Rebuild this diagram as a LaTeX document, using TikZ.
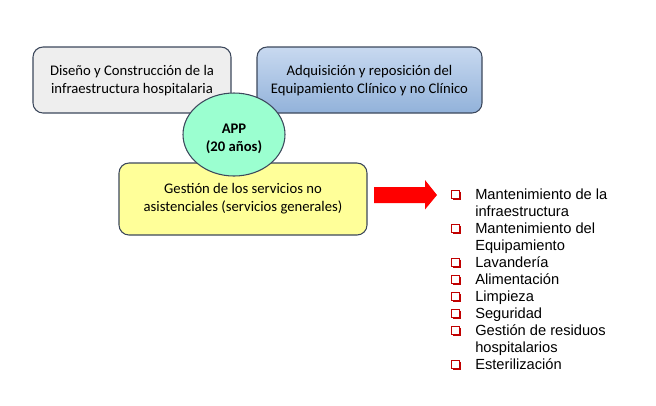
\documentclass[tikz,border=0pt]{standalone}
\usepackage{fontspec}
\setmainfont{Carlito}
\newfontfamily\arialfont{Liberation Sans}
\usetikzlibrary{positioning,calc,shapes.geometric}
\definecolor{rand}{RGB}{60,72,92}
\definecolor{grauF}{RGB}{238,238,238}
\definecolor{blauO}{RGB}{200,217,240}
\definecolor{blauU}{RGB}{146,178,218}
\definecolor{mint}{RGB}{155,255,208}
\definecolor{gelb}{RGB}{255,255,153}
\definecolor{dunkelrot}{RGB}{192,0,0}
\tikzset{
  kasten/.style={draw=rand,line width=0.8pt,rounded corners=7.5pt},
  kastentext/.style={font=\fontsize{11}{13.4}\selectfont,align=center,inner sep=0pt},
  listtext/.style={font=\arialfont\fontsize{11}{12.75}\selectfont,inner sep=0pt,anchor=base west},
}
\begin{document}
\begin{tikzpicture}[x=0.75pt,y=-0.75pt]
\useasboundingbox (0,0) rectangle (656,405);
%Kaesten
\draw[kasten,fill=grauF] (33,47) rectangle (231,113);
\node[kastentext] (bau) at (132,81) {Diseño y Construcción de la\\infraestructura hospitalaria};
\draw[kasten,top color=blauO,bottom color=blauU] (257,47) rectangle (482,113);
\node[kastentext] (equip) at (369.5,81) {Adquisición y reposición del\\Equipamiento Clínico y no Clínico};
\draw[kasten,fill=gelb] (119,163) rectangle (367,235);
\node[kastentext] (gestion) at (243,199) {Gestión de los servicios no\\asistenciales (servicios generales)};
%APP
\node[ellipse,draw=rand,line width=0.8pt,fill=mint,inner sep=0pt,
  minimum width=102*0.75pt,minimum height=83*0.75pt] (app) at (234,134.5) {};
\node[kastentext,font=\bfseries\fontsize{11}{13.4}\selectfont] (apptext) at (234,138.5) {APP\\(20 años)};
%Pfeil
\coordinate (pfeilA) at (374,195);
\coordinate (pfeilB) at (437,195);
\fill[red] ($(pfeilA)+(0,-8)$) -- ++(51,0) -- ++(0,-7) -- (pfeilB) -- ($(pfeilA)+(51,14.5)$) -- ++(0,-6.5) -- ($(pfeilA)+(0,8)$) -- cycle;
%Liste
\foreach \zeile/\txt in {0/Mantenimiento de la,1/infraestructura,2/Mantenimiento del,3/Equipamiento,
  4/Lavandería,5/Alimentación,6/Limpieza,7/Seguridad,8/Gestión de residuos,9/hospitalarios,10/Esterilización}{
  \node[listtext] (zeile\zeile) at (475,{199.5+17*\zeile}) {\txt};
}
\foreach \zeile in {0,2,4,5,6,7,8,10}{
  \draw[dunkelrot,line width=0.7pt] (451.5,{190.5+17*\zeile}) rectangle (459,{198+17*\zeile});
  \draw[dunkelrot,line width=1.4pt] (460.2,{191.5+17*\zeile}) -- (460.2,{199.2+17*\zeile}) -- (452.5,{199.2+17*\zeile});
}
\end{tikzpicture}
\end{document}
